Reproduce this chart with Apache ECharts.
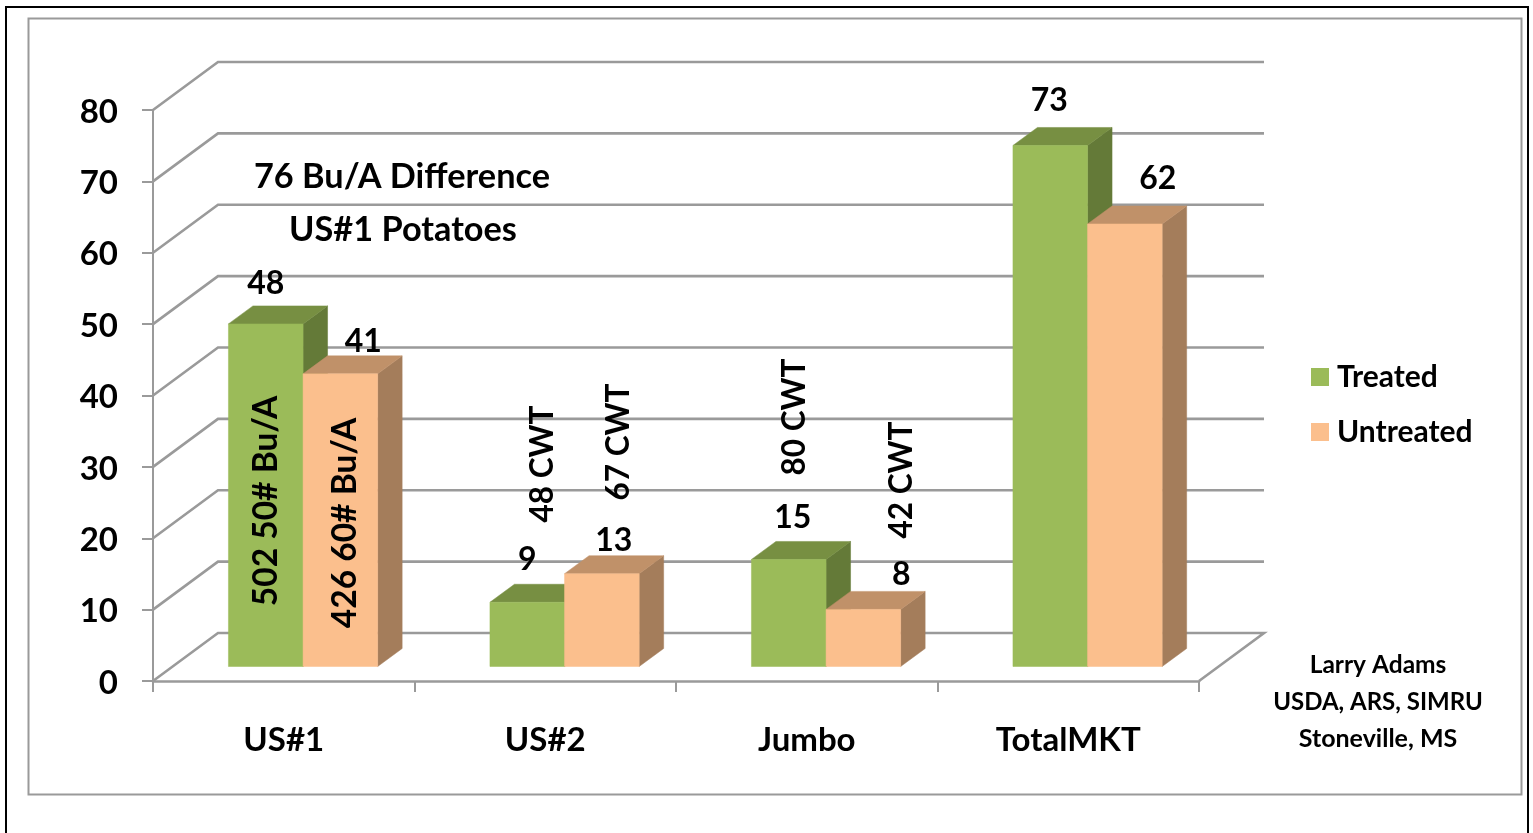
<!DOCTYPE html>
<html>
<head>
<meta charset="utf-8">
<style>html,body{margin:0;padding:0;background:#fff}#c{width:1533px;height:833px}</style>
<script src="https://cdn.jsdelivr.net/npm/echarts@6/dist/echarts.min.js"></script>
</head>
<body>
<div id="c"></div>
<script>
const categories = ['US#1', 'US#2', 'Jumbo', 'TotalMKT'];
const treated = [48, 9, 15, 73];
const untreated = [41, 13, 8, 62];
const yTicks = [0, 10, 20, 30, 40, 50, 60, 70, 80];
const titleLines = ['76 Bu/A Difference', 'US#1 Potatoes'];
const creditLines = ['Larry Adams', 'USDA, ARS, SIMRU', 'Stoneville, MS'];

const FONT = 'Lato, Carlito, sans-serif';
const GREY = '#9a9a9a';
const WALL = { dx: 65, dy: -48 };
const BAR = { w: 74.6, dx: 24.5, dy: -18, lift: 14.5, shift: 19.3 };

// label nudges relative to each bar's front-face centre and top
const treatedLabelNudge = [[0, -40], [0, -43], [4, -42], [-1, -45]];
const untreatedLabelNudge = [[23, -32], [12, -33], [38, -35], [33, -45]];
const treatedColors = { front: '#9BBB59', top: '#778F42', side: '#647A38' };
const untreatedColors = { front: '#FBBF8D', top: '#C09169', side: '#A47D5B' };

function bar3d(side, colors, nudges) {
  return function (params, api) {
    const idx = api.value(0), val = api.value(1);
    const c = api.coord([idx, val]);
    const base = api.coord([idx, 0]);
    const xMid = c[0] + BAR.shift;
    const x0 = side < 0 ? xMid - BAR.w : xMid;
    const x1 = x0 + BAR.w;
    const yT = c[1] - BAR.lift, yB = base[1] - BAR.lift;
    const poly = (points, fill) => ({ type: 'polygon', shape: { points }, style: { fill, stroke: fill, lineWidth: 0.5 } });
    return {
      type: 'group',
      children: [
        poly([[x1, yT], [x1 + BAR.dx, yT + BAR.dy], [x1 + BAR.dx, yB + BAR.dy], [x1, yB]], colors.side),
        poly([[x0, yT], [x0 + BAR.dx, yT + BAR.dy], [x1 + BAR.dx, yT + BAR.dy], [x1, yT]], colors.top),
        poly([[x0, yT], [x1, yT], [x1, yB], [x0, yB]], colors.front),
        {
          type: 'text', z2: 50,
          style: {
            text: String(val), x: (x0 + x1) / 2 + nudges[idx][0], y: yT + nudges[idx][1],
            align: 'center', verticalAlign: 'middle', fill: '#000',
            font: 'bold 32px ' + FONT
          }
        }
      ]
    };
  };
}

function wall(params, api) {
  const v = api.value(0);
  const rect = params.coordSys;
  const y = api.coord([0, v])[1];
  const xL = rect.x, xR = rect.x + rect.width;
  const pts = [[xL, y], [xL + WALL.dx, y + WALL.dy], [xR + WALL.dx, y + WALL.dy]];
  if (v === yTicks[0]) pts.push([xR, y]);
  return { type: 'polyline', shape: { points: pts }, style: { fill: 'none', stroke: GREY, lineWidth: 2.6 } };
}

function txt(text, x, y, size, rotate) {
  return {
    type: 'text', x, y, rotation: rotate ? Math.PI / 2 : 0, z: 20,
    style: { text, fill: '#000', font: 'bold ' + size + 'px ' + FONT, align: 'center', verticalAlign: 'middle' }
  };
}

const chart = echarts.init(document.getElementById('c'), null, { renderer: 'canvas' });
chart.setOption({
  animation: false,
  backgroundColor: '#fff',
  grid: { left: 153, right: 334, top: 110, height: 571, containLabel: false },
  xAxis: {
    type: 'category', data: categories,
    axisLine: { lineStyle: { color: GREY, width: 2.6 } },
    axisTick: { show: true, alignWithLabel: false, length: 11, lineStyle: { color: GREY, width: 2 } },
    axisLabel: { margin: 43, color: '#000', fontFamily: FONT, fontWeight: 'bold', fontSize: 33, interval: 0 }
  },
  yAxis: {
    type: 'value', min: 0, max: 80, interval: 10,
    splitLine: { show: false },
    axisLine: { show: true, lineStyle: { color: GREY, width: 2 } },
    axisTick: { show: true, length: 11, lineStyle: { color: GREY, width: 2 } },
    axisLabel: { margin: 35, color: '#000', fontFamily: FONT, fontWeight: 'bold', fontSize: 33, verticalAlign: 'top', lineHeight: 4 }
  },
  legend: {
    show: true, orient: 'vertical', left: 1311, top: 362, padding: 0, itemWidth: 18, itemHeight: 18, itemGap: 25,
    data: ['Treated', 'Untreated'], icon: 'rect',
    textStyle: { color: '#000', fontFamily: FONT, fontWeight: 'bold', fontSize: 30, padding: [0, 0, 0, 3] },
    selectedMode: false
  },
  graphic: [
    { type: 'rect', shape: { x: 6, y: 7, width: 1522, height: 840 }, style: { fill: 'none', stroke: '#000', lineWidth: 2 }, z: 0, silent: true },
    { type: 'rect', shape: { x: 28.5, y: 18.5, width: 1493, height: 776 }, style: { fill: 'none', stroke: GREY, lineWidth: 2 }, z: 0, silent: true },
    txt(titleLines[0], 402, 177, 34.3), txt(titleLines[1], 403, 230, 34.3),
    txt('502 50# Bu/A', 266, 501, 33.5, true), txt('426 60# Bu/A', 345, 523, 33.5, true),
    txt('48 CWT', 543, 464, 31.5, true), txt('67 CWT', 619, 442, 31.5, true),
    txt('80 CWT', 795, 417, 31.5, true), txt('42 CWT', 902, 480, 31.5, true),
    txt(creditLines[0], 1378, 665, 24.5), txt(creditLines[1], 1378, 702, 24), txt(creditLines[2], 1378, 739, 25)
  ],
  series: [
    { type: 'custom', name: 'walls', coordinateSystem: 'cartesian2d', renderItem: wall, silent: true, z: 1,
      encode: { y: 0 }, data: yTicks.map(v => [v]) },
    { type: 'custom', name: 'Treated', coordinateSystem: 'cartesian2d', z: 3, itemStyle: { color: treatedColors.front },
      renderItem: bar3d(-1, treatedColors, treatedLabelNudge), encode: { x: 0, y: 1 },
      data: treated.map((v, i) => [i, v]) },
    { type: 'custom', name: 'Untreated', coordinateSystem: 'cartesian2d', z: 4, itemStyle: { color: untreatedColors.front },
      renderItem: bar3d(1, untreatedColors, untreatedLabelNudge), encode: { x: 0, y: 1 },
      data: untreated.map((v, i) => [i, v]) }
  ]
});
</script>
</body>
</html>
